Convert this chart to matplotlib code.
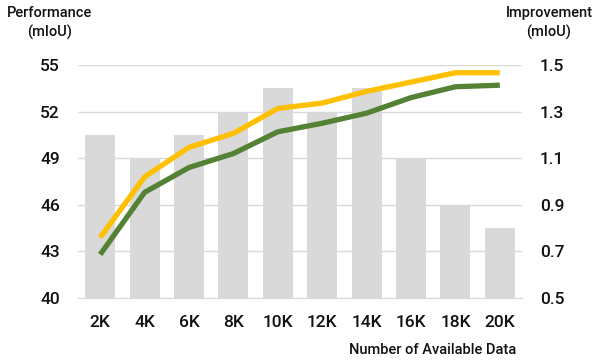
import matplotlib.pyplot as plt
import numpy as np

# 数据
categories = ['2K', '4K', '6K', '8K', '10K', '12K', '14K', '16K', '18K', '20K']
improvement = [1.2, 1.1, 1.2, 1.3, 1.4, 1.3, 1.4, 1.1, 0.9, 0.8]
perf_yellow = [43.9, 47.8, 49.7, 50.6, 52.2, 52.55, 53.3, 53.9, 54.5, 54.5]
perf_green = [42.8, 46.8, 48.4, 49.3, 50.7, 51.25, 51.9, 52.9, 53.6, 53.7]

plt.rcParams['font.family'] = ['Roboto', 'DejaVu Sans']

fig = plt.figure(figsize=(5.93, 3.6), dpi=100)
ax = fig.add_axes([78 / 593, 62 / 360, 444 / 593, 233 / 360])
ax2 = ax.twinx()

x = np.arange(len(categories))

# 柱状图（右轴）
ax2.bar(x, improvement, width=0.68, color='#d9d9d9', zorder=2)
ax2.set_ylim(0.5, 1.5)
ax2.set_yticks([0.5, 0.7, 0.9, 1.1, 1.3, 1.5])
ax2.set_yticklabels(['0.5', '0.7', '0.9', '1.1', '1.3', '1.5'])
ax2.grid(axis='y', color='#d9d9d9', linewidth=1, zorder=0)
ax2.set_axisbelow(True)

# 折线（左轴）
ax.plot(x, perf_yellow, color='#ffc000', linewidth=3.8, solid_capstyle='butt', zorder=3)
ax.plot(x, perf_green, color='#548235', linewidth=3.8, solid_capstyle='butt', zorder=3)
ax.set_ylim(40, 55)
ax.set_yticks([40, 43, 46, 49, 52, 55])
ax.set_xlim(-0.5, 9.5)
ax.set_xticks(x)
ax.set_xticklabels(categories)

ax.set_zorder(ax2.get_zorder() + 1)
ax.patch.set_visible(False)

for a in (ax, ax2):
    for s in a.spines.values():
        s.set_visible(False)
    a.tick_params(length=0, labelsize=12.5, colors='#111111')
ax.tick_params(axis='y', pad=13)
ax2.tick_params(axis='y', pad=13)
ax.tick_params(axis='x', pad=12)
ax2.spines['bottom'].set_visible(True)
ax2.spines['bottom'].set_color('#d9d9d9')

for lab in ax.get_xticklabels() + ax.get_yticklabels() + ax2.get_yticklabels():
    lab.set_fontweight('medium')

fig.text(50 / 593, 1 - 23 / 360, 'Performance\n(mIoU)', ha='center', va='center',
         fontsize=10.5, fontweight='medium', linespacing=1.45, color='#111111')
fig.text(549 / 593, 1 - 23 / 360, 'Improvement\n(mIoU)', ha='center', va='center',
         fontsize=10.5, fontweight='medium', linespacing=1.45, color='#111111')
fig.text(516 / 593, 1 - 350 / 360, 'Number of Available Data', ha='right', va='center',
         fontsize=10.5, fontweight='medium', color='#111111')

plt.savefig('out.png', dpi=100)
